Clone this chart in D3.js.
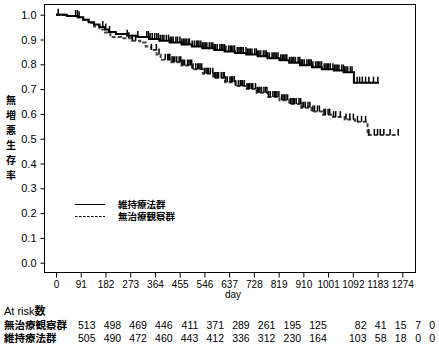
<!DOCTYPE html>
<html lang="ja">
<head>
<meta charset="utf-8">
<script src="https://cdn.jsdelivr.net/npm/d3@7"></script>
<style>
  html, body { margin: 0; padding: 0; background: #fff; }
  svg { display: block; font-family: "Liberation Sans", Arial, Helvetica, sans-serif; }
  .jp { font-family: "Liberation Sans", "Noto Sans CJK JP", sans-serif; font-weight: bold; }
</style>
</head>
<body>
<svg id="chart" width="439" height="349" lang="ja"></svg>
<script>
// Axis ticks
const xTicks = [0, 91, 182, 273, 364, 455, 546, 637, 728, 819, 910, 1001, 1092, 1183, 1274];
const yTicks = [0, 0.1, 0.2, 0.3, 0.4, 0.5, 0.6, 0.7, 0.8, 0.9, 1.0];
const yLabelChars = ["無", "増", "悪", "生", "存", "率"];
const groupNames = ["維持療法群", "無治療観察群"];

// Kaplan-Meier step points: maintenance therapy group
const maintDays = [0, 40, 80, 100, 120, 140, 160, 180, 195, 220, 262, 300, 342, 380, 418, 462, 500, 538, 582, 620, 658, 700, 742, 778, 822, 858, 898, 942, 978, 1022, 1058, 1096, 1188];
const maintSurv = [1.0, 0.995, 0.99, 0.98, 0.97, 0.96, 0.95, 0.94, 0.93, 0.922, 0.915, 0.91, 0.902, 0.895, 0.888, 0.88, 0.872, 0.865, 0.858, 0.852, 0.846, 0.84, 0.832, 0.824, 0.816, 0.806, 0.796, 0.788, 0.78, 0.775, 0.768, 0.726, 0.726];

// Kaplan-Meier step points: observation (no treatment) group
const obsDays = [0, 40, 80, 100, 120, 140, 160, 180, 200, 240, 280, 310, 330, 350, 370, 385, 420, 462, 500, 540, 578, 622, 660, 702, 738, 780, 822, 858, 902, 940, 982, 1020, 1062, 1100, 1146, 1262];
const obsSurv = [1.0, 0.995, 0.99, 0.98, 0.968, 0.952, 0.94, 0.928, 0.91, 0.905, 0.895, 0.888, 0.872, 0.858, 0.84, 0.818, 0.808, 0.795, 0.78, 0.762, 0.745, 0.728, 0.712, 0.70, 0.685, 0.668, 0.655, 0.64, 0.625, 0.61, 0.597, 0.587, 0.577, 0.568, 0.515, 0.515];

// Censoring times
const maintCensor = [8, 72, 79, 85, 172, 183, 197, 262, 301, 334, 340, 346, 354, 363, 371, 377, 384, 391, 397, 406, 414, 420, 426, 431, 441, 447, 456, 463, 469, 474, 479, 486, 491, 501, 509, 517, 522, 526, 533, 539, 544, 549, 555, 564, 571, 577, 582, 587, 593, 603, 609, 614, 619, 625, 635, 641, 646, 651, 657, 667, 673, 678, 683, 689, 699, 705, 710, 715, 721, 731, 737, 742, 747, 753, 763, 769, 774, 779, 785, 795, 801, 806, 811, 817, 827, 833, 838, 843, 849, 859, 865, 870, 875, 881, 891, 897, 902, 907, 913, 923, 929, 934, 939, 945, 955, 961, 966, 971, 977, 987, 993, 998, 1003, 1009, 1019, 1025, 1030, 1035, 1041, 1051, 1057, 1062, 1067, 1073, 1083, 1089, 1108, 1117, 1127, 1139, 1151, 1168, 1184];
const obsCensor = [268, 281, 293, 351, 369, 379, 402, 411, 415, 419, 427, 432, 437, 444, 453, 459, 463, 468, 473, 484, 489, 494, 499, 504, 514, 521, 525, 530, 536, 546, 552, 556, 561, 568, 577, 583, 588, 593, 598, 608, 615, 619, 624, 630, 640, 645, 650, 656, 661, 671, 678, 682, 687, 693, 703, 708, 713, 719, 724, 734, 740, 745, 750, 756, 765, 771, 776, 782, 788, 798, 804, 808, 813, 820, 830, 835, 840, 846, 852, 862, 868, 873, 878, 884, 894, 900, 905, 911, 917, 927, 934, 945, 951, 962, 969, 986, 991, 1001, 1007, 1021, 1029, 1046, 1067, 1081, 1094, 1109, 1124, 1139, 1151, 1171, 1183, 1193, 1206, 1229, 1259];

// Number at risk
const riskObs = [513, 498, 469, 446, 411, 371, 289, 261, 195, 125, 82, 41, 15, 7, 0];
const riskMaint = [505, 490, 472, 460, 443, 412, 336, 312, 230, 164, 103, 58, 18, 0, 0];

const svg = d3.select("#chart");

const frame = { left: 44, top: 4, right: 415, bottom: 272 };
const x = d3.scaleLinear().domain([0, 1274]).range([56, 402.3]);
const y = d3.scaleLinear().domain([0, 1]).range([262.7, 14.7]);

// Plot frame
svg.append("rect")
  .attr("x", frame.left + 0.5).attr("y", frame.top + 0.5)
  .attr("width", frame.right - frame.left).attr("height", frame.bottom - frame.top)
  .attr("fill", "none").attr("stroke", "#000").attr("stroke-width", 1);

// Y axis
const yAxis = svg.append("g").attr("transform", `translate(${frame.left + 0.5},0)`)
  .call(d3.axisLeft(y).tickValues(yTicks).tickFormat(d3.format(".1f")).tickSize(4).tickPadding(4));
yAxis.select(".domain").remove();
yAxis.selectAll("text").attr("font-size", 11).attr("fill", "#000")
  .attr("font-family", "'Liberation Sans', Arial, sans-serif");

// X axis
const xAxis = svg.append("g").attr("transform", `translate(0,${frame.bottom + 0.5})`)
  .call(d3.axisBottom(x).tickValues(xTicks).tickFormat(d3.format("d")).tickSize(5).tickPadding(3));
xAxis.select(".domain").remove();
xAxis.selectAll("text").attr("font-size", 10).attr("fill", "#000")
  .attr("font-family", "'Liberation Sans', Arial, sans-serif");

svg.append("text").attr("x", 233).attr("y", 298).attr("text-anchor", "middle")
  .attr("font-size", 10).text("day");

// Vertical y-axis title
svg.append("g").selectAll("text").data(yLabelChars).join("text")
  .attr("class", "jp")
  .attr("x", 11).attr("y", (d, i) => 100 + i * 15)
  .attr("text-anchor", "middle").attr("dominant-baseline", "central")
  .attr("font-size", 10).text(d => d);

// Survival curves
const stepLine = d3.line().x(d => x(d[0])).y(d => y(d[1])).curve(d3.curveStepAfter);
const obsPts = obsDays.map((d, i) => [d, obsSurv[i]]);
const maintPts = maintDays.map((d, i) => [d, maintSurv[i]]);

function survAt(days, surv, t) {
  const i = d3.bisectRight(days, t) - 1;
  return surv[Math.max(0, i)];
}

svg.append("path").attr("d", stepLine(obsPts))
  .attr("fill", "none").attr("stroke", "#444").attr("stroke-width", 2)
  .attr("stroke-dasharray", "4,2");

svg.append("g").selectAll("line").data(obsCensor).join("line")
  .attr("x1", d => x(d)).attr("x2", d => x(d))
  .attr("y1", d => y(survAt(obsDays, obsSurv, d)))
  .attr("y2", d => y(survAt(obsDays, obsSurv, d)) - 6)
  .attr("stroke", "#000").attr("stroke-width", 1.5);

svg.append("path").attr("d", stepLine(maintPts))
  .attr("fill", "none").attr("stroke", "#000").attr("stroke-width", 2);

svg.append("g").selectAll("line").data(maintCensor).join("line")
  .attr("x1", d => x(d)).attr("x2", d => x(d))
  .attr("y1", d => y(survAt(maintDays, maintSurv, d)))
  .attr("y2", d => y(survAt(maintDays, maintSurv, d)) - 6)
  .attr("stroke", "#000").attr("stroke-width", 1.5);

// Legend
const legendY = [204.5, 216.5];
const legend = svg.append("g");
legend.append("line").attr("x1", 75).attr("x2", 105).attr("y1", legendY[0]).attr("y2", legendY[0])
  .attr("stroke", "#000").attr("stroke-width", 1);
legend.append("line").attr("x1", 75).attr("x2", 105).attr("y1", legendY[1]).attr("y2", legendY[1])
  .attr("stroke", "#000").attr("stroke-width", 1).attr("stroke-dasharray", "2.5,1.5");
legend.selectAll("text").data(groupNames).join("text")
  .attr("class", "jp")
  .attr("x", 118).attr("y", (d, i) => legendY[i])
  .attr("dominant-baseline", "central").attr("font-size", 9.5).text(d => d);

// Number-at-risk table
const colRight = [95.5, 121.2, 146.9, 172.6, 198.3, 224, 249.7, 275.4, 301.1, 326.8, 366.5, 386.5, 406.5, 421, 435];
const table = svg.append("g");
table.append("text").attr("x", 4).attr("y", 311).attr("dominant-baseline", "central")
  .attr("font-size", 11)
  .call(t => {
    t.append("tspan").text("At risk");
    t.append("tspan").attr("class", "jp").text("数");
  });
const rows = [
  { label: "無治療観察群", values: riskObs, y: 324.5 },
  { label: "維持療法群", values: riskMaint, y: 337.5 }
];
rows.forEach(r => {
  table.append("text").attr("class", "jp").attr("x", 4).attr("y", r.y)
    .attr("dominant-baseline", "central").attr("font-size", 10.5).text(r.label);
  table.append("g").selectAll("text").data(r.values).join("text")
    .attr("x", (d, i) => colRight[i]).attr("y", r.y)
    .attr("text-anchor", "end").attr("dominant-baseline", "central")
    .attr("font-size", 10.5).text(d => d);
});
</script>
</body>
</html>
